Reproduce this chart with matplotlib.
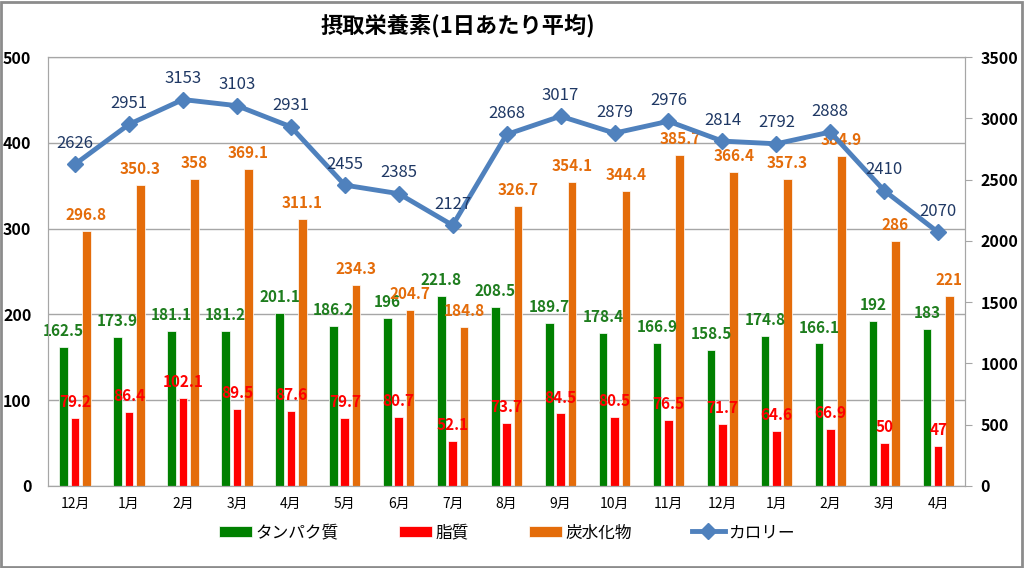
import matplotlib
matplotlib.use('Agg')
import matplotlib.pyplot as plt
from matplotlib.patches import Rectangle
import numpy as np

plt.rcParams['font.family'] = ['Noto Sans CJK JP', 'DejaVu Sans']

months = ['12月', '1月', '2月', '3月', '4月', '5月', '6月', '7月', '8月',
          '9月', '10月', '11月', '12月', '1月', '2月', '3月', '4月']
protein = [162.5, 173.9, 181.1, 181.2, 201.1, 186.2, 196, 221.8, 208.5,
           189.7, 178.4, 166.9, 158.5, 174.8, 166.1, 192, 183]
fat = [79.2, 86.4, 102.1, 89.5, 87.6, 79.7, 80.7, 52.1, 73.7,
       84.5, 80.5, 76.5, 71.7, 64.6, 66.9, 50, 47]
carbs = [296.8, 350.3, 358, 369.1, 311.1, 234.3, 204.7, 184.8, 326.7,
         354.1, 344.4, 385.7, 366.4, 357.3, 384.9, 286, 221]
kcal = [2626, 2951, 3153, 3103, 2931, 2455, 2385, 2127, 2868,
        3017, 2879, 2976, 2814, 2792, 2888, 2410, 2070]

GREEN = '#008000'
RED = '#FF0000'
ORANGE = '#E46C0A'
BLUE = '#4F81BD'
NAVY = '#1F3864'
GRID = '#A6A6A6'


def fmt(v):
    return f'{v:g}'


def main():
    fig = plt.figure(figsize=(10.24, 5.68), dpi=100)
    ax = fig.add_axes([0.047, 0.1444, 0.8955, 0.7552])
    ax2 = ax.twinx()

    x = np.arange(len(months))
    w = 0.16
    series = [(protein, -0.21, GREEN, 'タンパク質', '#1E7D1E'),
              (fat, 0.0, RED, '脂質', RED),
              (carbs, 0.21, ORANGE, '炭水化物', ORANGE)]
    for vals, off, col, name, lcol in series:
        ax.bar(x + off, vals, w, color=col, edgecolor='white', linewidth=0.5,
               label=name, zorder=2)
        for xi, v in zip(x, vals):
            ax.annotate(fmt(v), (xi + off, v), xytext=(0, 11.5),
                        textcoords='offset points', ha='center', va='center',
                        color=lcol, fontsize=11, fontweight='bold', zorder=4)

    ax.set_xlim(-0.5, len(months) - 0.5)
    ax.set_ylim(0, 500)
    ax.set_yticks(range(0, 501, 100))
    ax.grid(axis='y', color=GRID, linewidth=1, zorder=0)
    ax.set_axisbelow(True)
    ax.set_xticks(x)
    ax.set_xticklabels(months, fontsize=10)
    ax.tick_params(axis='x', length=0, pad=8)
    ax.tick_params(axis='y', length=0, pad=12, labelsize=11.5)
    for lbl in ax.get_yticklabels():
        lbl.set_fontweight('bold')
    for s in ['top', 'bottom', 'left', 'right']:
        ax.spines[s].set_color(GRID)

    ax2.plot(x, kcal, color=BLUE, linewidth=3.5, marker='D', markersize=8,
             label='カロリー', zorder=3)
    for xi, v in zip(x, kcal):
        ax2.annotate(fmt(v), (xi, v), xytext=(0, 15),
                     textcoords='offset points', ha='center', va='center',
                     color=NAVY, fontsize=12)
    ax2.set_ylim(0, 3500)
    ax2.set_yticks(range(0, 3501, 500))
    ax2.tick_params(axis='y', length=5, color=GRID, pad=6, labelsize=11.5)
    for lbl in ax2.get_yticklabels():
        lbl.set_fontweight('bold')
    for s in ['top', 'bottom', 'left', 'right']:
        ax2.spines[s].set_color(GRID)

    h1, l1 = ax.get_legend_handles_labels()
    h2, l2 = ax2.get_legend_handles_labels()
    fig.legend(h1 + h2, l1 + l2, loc='center', bbox_to_anchor=(0.495, 0.062),
               ncol=4, frameon=False, fontsize=12, columnspacing=3.6,
               handlelength=2, handletextpad=0.2)

    fig.text(0.447, 0.955, '摂取栄養素(1日あたり平均)', ha='center', va='center',
             fontsize=16, fontweight='bold')

    fig.patches.append(Rectangle((0.001, 0.002), 0.997, 0.995,
                                 transform=fig.transFigure, fill=False,
                                 edgecolor='#8C8C8C', linewidth=2))

    fig.savefig('out.png', dpi=100)


if __name__ == '__main__':
    main()
